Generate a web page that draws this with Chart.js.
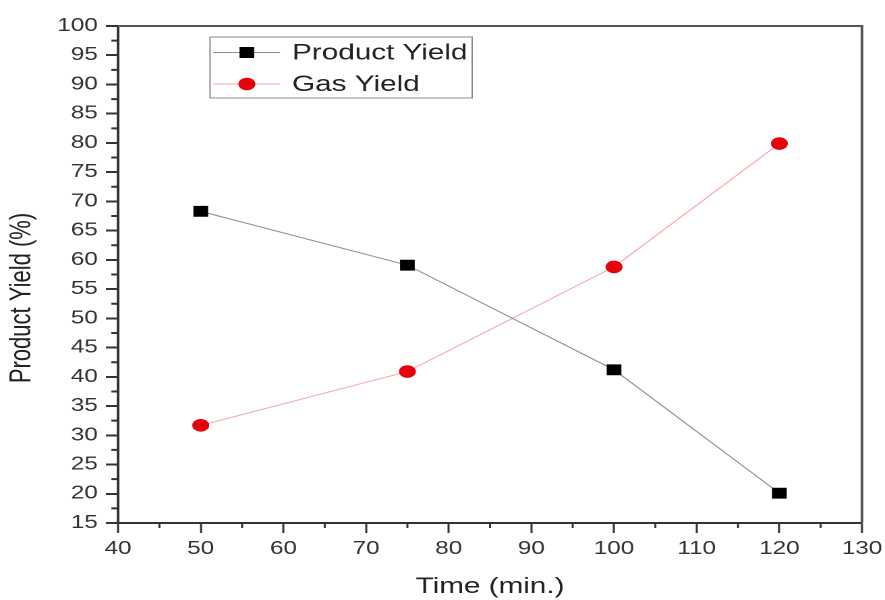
<!DOCTYPE html>
<html>
<head>
<meta charset="utf-8">
<script src="https://cdn.jsdelivr.net/npm/chart.js@4.4.1/dist/chart.umd.min.js"></script>
<style>
  html, body { margin: 0; padding: 0; background: #fff; overflow: hidden; }
  #wrap { width: 656px; height: 600px; transform: scaleX(1.349); transform-origin: 0 0; }
</style>
</head>
<body>
<div id="wrap"><canvas id="chart"></canvas></div>
<script>
// data
const time_Min = [50, 75, 100, 120];
const product_Yield = [68.3, 59.1, 41.2, 20.1];
const gas_Yield = [31.7, 40.9, 58.8, 79.9];
const series_Names = ["Product Yield", "Gas Yield"];
const x_Title = "Time (min.)";
const y_Title = "Product Yield (%)";

const font_Family = "'Liberation Sans', Arial, sans-serif";
const axis_Color = "#333";

function to_Points(values) {
  return time_Min.map((t, i) => ({ x: t, y: values[i] }));
}

// box, minor ticks, legend and rotated y title
const extras_Plugin = {
  id: "extras",
  afterDraw(chart) {
    const ctx = chart.ctx;
    const area = chart.chartArea;
    const xs = chart.scales.x;
    const ys = chart.scales.y;
    ctx.save();

    // top and right frame
    ctx.strokeStyle = "#555";
    ctx.lineWidth = 2;
    ctx.beginPath();
    ctx.moveTo(area.left, area.top);
    ctx.lineTo(area.right, area.top);
    ctx.lineTo(area.right, area.bottom);
    ctx.stroke();

    // minor ticks
    ctx.strokeStyle = axis_Color;
    ctx.lineWidth = 2;
    ctx.beginPath();
    for (let v = 17.5; v < 100; v += 5) {
      const py = ys.getPixelForValue(v);
      ctx.moveTo(area.left - 5, py);
      ctx.lineTo(area.left, py);
    }
    ctx.stroke();
    ctx.lineWidth = 1.5;
    ctx.beginPath();
    for (let v = 45; v < 130; v += 10) {
      const px = xs.getPixelForValue(v);
      ctx.moveTo(px, area.bottom);
      ctx.lineTo(px, area.bottom + 5);
    }
    ctx.stroke();

    // legend
    const box = { left: 155.7, top: 37, right: 350, bottom: 98 };
    ctx.strokeStyle = "#8a8a8a";
    ctx.lineWidth = 1;
    ctx.strokeRect(box.left, box.top, box.right - box.left, box.bottom - box.top);
    const rows = [52.5, 84];
    chart.data.datasets.forEach((ds, i) => {
      const y = rows[i];
      ctx.strokeStyle = ds.borderColor;
      ctx.lineWidth = 1;
      ctx.beginPath();
      ctx.moveTo(158, y);
      ctx.lineTo(207.6, y);
      ctx.stroke();
      ctx.fillStyle = ds.pointBackgroundColor;
      ctx.strokeStyle = ds.pointBorderColor;
      Chart.helpers.drawPoint(ctx, {
        pointStyle: ds.pointStyle,
        radius: ds.pointRadius,
        rotation: 0,
        borderWidth: 1,
      }, 183, y);
      ctx.fillStyle = "#222";
      ctx.font = "22px " + font_Family;
      ctx.textAlign = "left";
      ctx.textBaseline = "middle";
      ctx.fillText(ds.label, 216.5, y + 1);
    });

    // y axis title
    ctx.translate(16.5, 298);
    ctx.rotate(-Math.PI / 2);
    ctx.fillStyle = "#222";
    ctx.font = "22px " + font_Family;
    ctx.textAlign = "center";
    ctx.textBaseline = "middle";
    ctx.fillText(y_Title, 0, 0);
    ctx.restore();
  },
};

const grafica = new Chart(document.getElementById("chart"), {
  type: "line",
  data: {
    datasets: [
      {
        label: series_Names[0],
        data: to_Points(product_Yield),
        borderColor: "#8c8c8c",
        borderWidth: 1,
        pointStyle: "rect",
        pointRadius: 7,
        pointBackgroundColor: "#000",
        pointBorderColor: "#000",
        pointBorderWidth: 1,
      },
      {
        label: series_Names[1],
        data: to_Points(gas_Yield),
        borderColor: "#f4a8a8",
        borderWidth: 1,
        pointStyle: "circle",
        pointRadius: 5.8,
        pointBackgroundColor: "#e8000c",
        pointBorderColor: "#e8000c",
        pointBorderWidth: 1,
      },
    ],
  },
  options: {
    responsive: true,
    maintainAspectRatio: false,
    animation: false,
    devicePixelRatio: 2,
    layout: { padding: { left: 36.5, right: 17, top: 26, bottom: 0 } },
    plugins: { legend: { display: false }, tooltip: { enabled: false } },
    scales: {
      x: {
        type: "linear",
        min: 40,
        max: 130,
        afterFit(scale) {
          scale.paddingLeft = 0;
          scale.paddingRight = 0;
        },
        ticks: {
          stepSize: 10,
          padding: 5,
          color: axis_Color,
          font: { family: font_Family, size: 18 },
        },
        grid: { drawOnChartArea: false, tickLength: 10, tickColor: axis_Color, tickWidth: 1.5 },
        border: { color: axis_Color, width: 2 },
        title: {
          display: true,
          text: x_Title,
          color: "#222",
          font: { family: font_Family, size: 22 },
          padding: { top: 9, bottom: 0 },
        },
      },
      y: {
        min: 15,
        max: 100,
        ticks: {
          stepSize: 5,
          padding: 6,
          color: axis_Color,
          font: { family: font_Family, size: 18 },
        },
        grid: { drawOnChartArea: false, tickLength: 9, tickColor: axis_Color, tickWidth: 2 },
        border: { color: axis_Color, width: 2 },
      },
    },
  },
  plugins: [extras_Plugin],
});
</script>
</body>
</html>
